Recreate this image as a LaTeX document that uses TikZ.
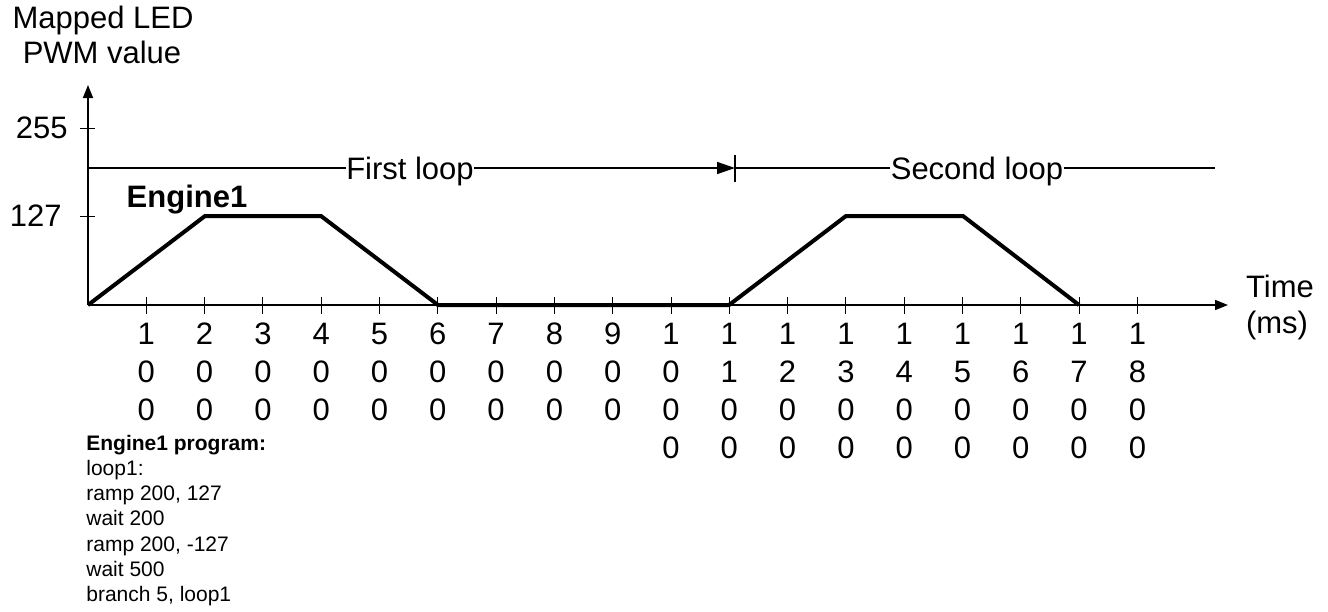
\documentclass[tikz,border=0pt]{standalone}
\usepackage{fontspec}
\setmainfont{Liberation Sans}
\usetikzlibrary{arrows.meta, positioning}

\begin{document}
\begin{tikzpicture}[
    x=0.5pt, y=-0.5pt,
    axis/.style={line width=0.8pt, -{Triangle[length=6.5pt, width=5pt]}},
    tick/.style={line width=0.5pt},
    curve/.style={line width=2pt, line join=miter},
    loopline/.style={line width=0.8pt},
    big/.style={font=\fontsize{15.5}{19}\selectfont, inner sep=0pt},
    prog/.style={font=\fontsize{10.5}{12.6}\selectfont, inner sep=0pt, anchor=base west}
  ]
  \useasboundingbox (0,0) rectangle (1328,611);

  % Axes
  \coordinate (o) at (88,305);
  \coordinate (ytip) at (88,85);
  \coordinate (xtip) at (1228,305);
  \draw[axis] (o) -- (ytip);
  \draw[axis] (o) -- (xtip);

  % Axis titles
  \node[big, anchor=base] (ytitle1) at (103,28) {Mapped LED};
  \node[big, anchor=base] (ytitle2) at (102,63) {PWM value};
  \node[big, anchor=base] (xtitle1) at (1280,297) {Time};
  \node[big, anchor=base] (xtitle2) at (1277,333) {(ms)};

  % Y ticks
  \foreach \v/\yy/\xx in {255/128/68, 127/216/62} {
    \draw[tick] (80,\yy) -- (95,\yy);
    \node[big, anchor=east] (y\v) at (\xx,\yy) {\v};
  }

  % X ticks, labels written downwards
  \foreach \k/\ds in {1/{1,0,0}, 2/{2,0,0}, 3/{3,0,0}, 4/{4,0,0}, 5/{5,0,0},
      6/{6,0,0}, 7/{7,0,0}, 8/{8,0,0}, 9/{9,0,0}, 10/{1,0,0,0}, 11/{1,1,0,0},
      12/{1,2,0,0}, 13/{1,3,0,0}, 14/{1,4,0,0}, 15/{1,5,0,0}, 16/{1,6,0,0},
      17/{1,7,0,0}, 18/{1,8,0,0}} {
    \draw[tick] (88+58.3*\k,297) -- (88+58.3*\k,314);
    \foreach \d [count=\r] in \ds
      \node[big, anchor=base] (x\k-\r) at (88+58.3*\k,306+38*\r) {\d};
  }

  % Engine1 output
  \draw[curve] (o) -- (205,216) -- (321,216) -- (438,305) -- (729,305)
    -- (846,216) -- (963,216) -- (1079,305);
  \node[big, anchor=base] (engine) at (187,207) {\bfseries Engine1};

  % Loops
  \coordinate (loopstart) at (88,168);
  \coordinate (loopend) at (735,168);
  \coordinate (loopstop) at (1215,168);
  \node[big, anchor=base] (first) at (410,179) {First loop};
  \node[big, anchor=base] (second) at (977,179) {Second loop};
  \draw[loopline] (loopstart) -- (loopstart -| first.west);
  \draw[loopline, -{Triangle[length=9pt, width=6pt]}] (loopstart -| first.east) -- (loopend);
  \draw[loopline] ([yshift=6.5pt]loopend) -- ([yshift=-7pt]loopend);
  \draw[loopline] (loopend) -- (loopend -| second.west);
  \draw[loopline] (loopend -| second.east) -- (loopstop);

  % Program listing
  \node[prog] (prog0) at (86,450) {\bfseries Engine1 program:};
  \foreach \txt [count=\i] in {{loop1:}, {ramp 200, 127}, {wait 200},
      {ramp 200, -127}, {wait 500}, {branch 5, loop1}}
    \node[prog] (prog\i) at (86,450+25.3*\i) {\txt};
\end{tikzpicture}
\end{document}
